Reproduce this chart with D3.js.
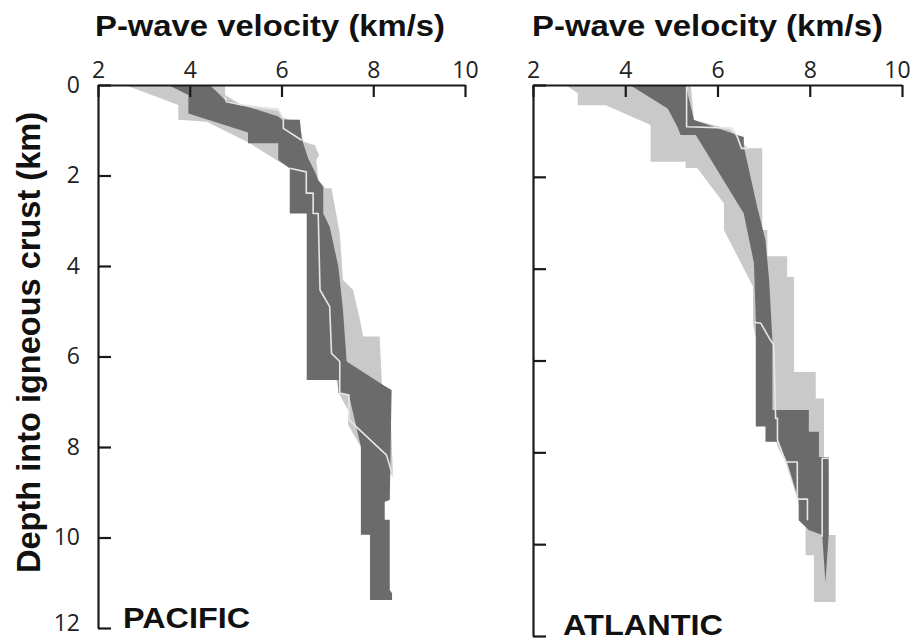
<!DOCTYPE html>
<html><head><meta charset="utf-8">
<script src="https://cdn.jsdelivr.net/npm/d3@7"></script>
<style>body{margin:0;background:#fff} svg{display:block}</style>
</head><body><svg id="c" width="913" height="640"></svg>
<script>
// ---- data: [P-wave velocity (km/s), depth (km)] ----
const xTicks = [2, 4, 6, 8, 10];
const yTicks = [0, 2, 4, 6, 8, 10, 12];
const xTitle = "P-wave velocity (km/s)";
const yTitle = "Depth into igneous crust (km)";
const panelNames = ["PACIFIC", "ATLANTIC"];

const pacificLight = [[2.59,0],[4.77,0],[4.77,0.22],[5.13,0.44],[5.93,0.52],[6.00,0.70],[6.40,0.88],[6.47,1.25],[6.73,1.33],[6.82,1.55],[6.76,1.66],[6.80,2.10],[6.95,2.28],[7.09,2.28],[7.27,3.28],[7.34,4.31],[7.56,4.53],[7.71,5.19],[7.78,5.56],[8.14,5.56],[8.19,6.67],[8.36,6.74],[8.43,8.66],[7.73,8.0],[7.45,7.51],[7.45,7.18],[7.27,6.85],[7.09,6.08],[7.05,4.9],[6.84,4.53],[6.80,2.84],[6.54,2.39],[6.18,1.84],[5.31,1.29],[4.37,0.81],[3.75,0.77],[3.75,0.44]];
const pacificDark = [[3.53,0],[4.44,0],[4.77,0.33],[5.92,0.69],[6.01,0.76],[6.40,0.77],[6.44,1.18],[6.58,1.62],[6.73,1.92],[6.80,2.10],[6.91,2.25],[6.91,2.84],[7.05,3.13],[7.24,4.02],[7.34,4.97],[7.42,6.11],[8.25,6.65],[8.40,6.74],[8.36,9.17],[8.25,9.21],[8.25,9.61],[8.36,9.61],[8.36,11.16],[8.41,11.23],[8.41,11.38],[7.93,11.38],[7.93,9.94],[7.73,9.94],[7.73,7.99],[7.47,6.85],[7.24,6.81],[7.24,6.52],[6.55,6.52],[6.55,2.84],[6.18,2.84],[6.18,1.84],[5.93,1.66],[5.93,1.29],[5.27,1.29],[5.27,1.05],[3.97,0.63],[3.97,0.22]];
const pacificLineA = [[4.77,0.26],[4.80,0.37],[5.13,0.44],[5.93,0.55],[6.04,0.74],[6.04,0.96],[6.44,1.22]];
const pacificLineB = [[6.18,1.84],[6.54,1.92],[6.54,2.39],[6.69,2.39],[6.69,2.84],[6.80,2.84],[6.84,4.53],[7.05,4.90],[7.09,5.93],[7.27,6.11],[7.27,6.81],[7.47,6.85],[7.47,7.40],[8.29,8.18],[8.43,8.66]];

const atlanticLight = [[2.71,0],[5.42,0],[5.49,0.76],[6.29,0.97],[6.65,1.38],[6.97,1.38],[6.97,3.16],[7.08,3.16],[7.08,3.73],[7.51,3.73],[7.51,4.18],[7.66,4.18],[7.66,6.25],[8.13,6.25],[8.13,6.83],[8.31,6.83],[8.31,8.10],[8.41,8.28],[8.41,9.80],[8.56,9.80],[8.56,11.26],[8.09,11.26],[8.09,10.24],[7.91,10.24],[7.91,9.59],[7.48,8.21],[7.30,7.88],[6.77,5.19],[6.77,4.39],[6.14,3.16],[6.14,2.58],[5.56,1.81],[5.31,1.81],[5.31,1.67],[4.55,1.67],[4.55,0.87],[3.58,0.44],[2.97,0.44],[2.97,0.18]];
const atlanticDark = [[4.10,0],[5.31,0],[5.49,0.76],[6.43,1.09],[6.57,1.13],[6.57,1.34],[6.86,2.65],[7.04,3.38],[7.12,4.25],[7.19,5.56],[7.19,7.08],[7.98,7.08],[7.98,7.55],[8.20,7.55],[8.20,8.10],[8.41,8.10],[8.41,9.80],[8.34,10.83],[8.27,9.80],[7.98,9.69],[7.76,9.48],[7.76,9.04],[7.51,8.21],[7.30,7.77],[7.04,7.77],[7.04,7.44],[6.83,7.44],[6.83,5.12],[6.79,3.88],[6.57,2.80],[5.53,1.09],[5.20,1.09],[5.13,0.91],[4.92,0.51]];
const atlanticLineA = [[5.33,0],[5.33,0.91],[6.32,0.94],[6.43,1.13],[6.52,1.38],[6.68,1.38]];
const atlanticLineB = [[6.76,5.16],[6.94,5.19],[7.15,5.56],[7.22,5.66],[7.26,7.26],[7.30,7.26],[7.30,7.73],[7.48,8.21],[7.73,8.21],[7.73,9.02],[7.95,9.02],[7.95,9.48]];
const atlanticLineC = [[8.41,8.13],[8.27,8.13],[8.27,9.84]];

// ---- layout / style ----
const LIGHT = "#c9c9c9", DARK = "#6b6b6b", LINE = "#e6e6e6", INK = "#1a1a1a";
const panels = [
  {name: panelNames[0], light: pacificLight, dark: pacificDark, lines: [pacificLineA, pacificLineB],
   xr: [98, 465], yr: [85, 628], labels: true, titleX: 95, titleLen: 350, lastDx: 0,
   nameX: 123, nameY: 628, nameSize: 29, nameLen: 127},
  {name: panelNames[1], light: atlanticLight, dark: atlanticDark, lines: [atlanticLineA, atlanticLineB, atlanticLineC],
   xr: [533, 902], yr: [85, 636], labels: false, titleX: 532, titleLen: 351, lastDx: -5,
   nameX: 563, nameY: 635, nameSize: 30, nameLen: 160}
];

const svg = d3.select("#c");

panels.forEach(p => {
  const x = d3.scaleLinear().domain([2, 10]).range(p.xr);
  const y = d3.scaleLinear().domain([0, 12]).range(p.yr);
  const area = d3.line().x(d => x(d[0])).y(d => y(d[1])).curve(d3.curveLinearClosed);
  const path = d3.line().x(d => x(d[0])).y(d => y(d[1]));
  const g = svg.append("g");

  g.append("path").attr("d", area(p.light)).attr("fill", LIGHT);
  g.append("path").attr("d", area(p.dark)).attr("fill", DARK);
  p.lines.forEach(l => g.append("path").attr("d", path(l))
    .attr("fill", "none").attr("stroke", LINE).attr("stroke-width", 1.6).attr("stroke-linejoin", "round"));

  const ax = g.append("g").attr("transform", `translate(0,${p.yr[0]})`)
    .call(d3.axisTop(x).tickValues(xTicks).tickSizeInner(-12).tickSizeOuter(0).tickPadding(7).tickFormat(d3.format("d")));
  const ay = g.append("g").attr("transform", `translate(${p.xr[0]},0)`)
    .call(d3.axisLeft(y).tickValues(yTicks).tickSizeInner(-13).tickSizeOuter(0).tickPadding(18)
      .tickFormat(p.labels ? d3.format("d") : () => ""));
  [ax, ay].forEach(a => {
    a.selectAll("path.domain").attr("stroke", INK).attr("stroke-width", 2.2);
    a.selectAll(".tick line").attr("stroke", INK).attr("stroke-width", 2.2);
    a.selectAll(".tick text").attr("fill", "#222").style("font-family", "'Open Sans', sans-serif").style("font-size", "23px");
  });
  ax.selectAll(".tick text").filter(d => d === 10).attr("dx", p.lastDx);
  ay.selectAll(".tick text").filter(d => d === 12).attr("dy", "0.12em");

  g.append("text").attr("x", p.titleX).attr("y", 36).text(xTitle)
    .attr("textLength", p.titleLen).attr("lengthAdjust", "spacingAndGlyphs")
    .style("font-family", "'Liberation Sans', Arial, sans-serif").style("font-weight", "bold").style("font-size", "29px").attr("fill", "#111");

  g.append("text").attr("x", p.nameX).attr("y", p.nameY).text(p.name)
    .attr("textLength", p.nameLen).attr("lengthAdjust", "spacingAndGlyphs")
    .style("font-family", "'Liberation Sans', Arial, sans-serif").style("font-weight", "bold").style("font-size", p.nameSize + "px").attr("fill", "#111");
});

svg.append("text").attr("transform", "translate(40,342.5) rotate(-90)").attr("text-anchor", "middle")
  .text(yTitle).attr("textLength", 461).attr("lengthAdjust", "spacingAndGlyphs")
  .style("font-family", "'Liberation Sans', Arial, sans-serif").style("font-weight", "bold").style("font-size", "33px").attr("fill", "#111");
</script>
</body></html>
